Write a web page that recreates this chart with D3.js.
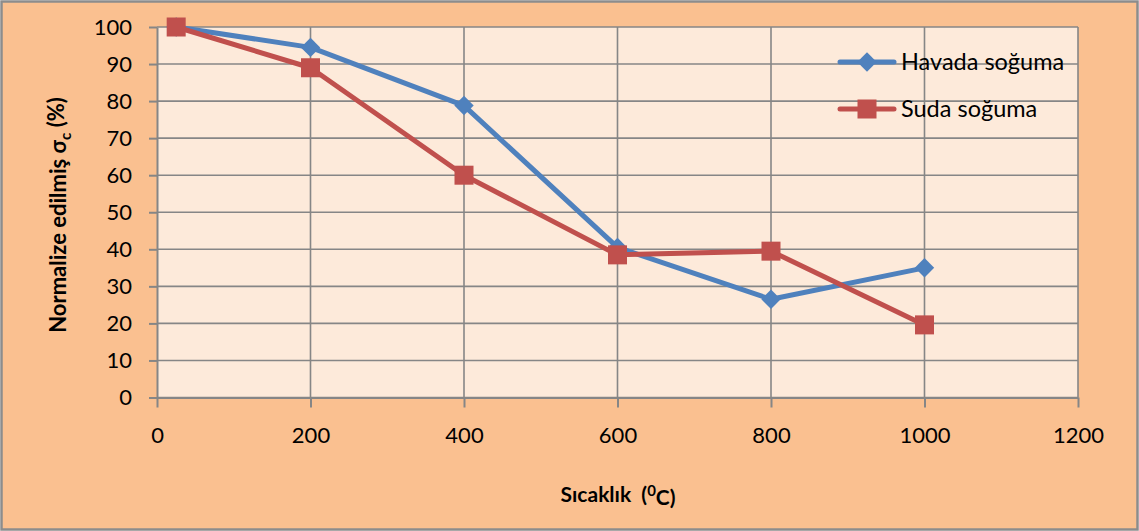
<!DOCTYPE html>
<html>
<head>
<meta charset="utf-8">
<script src="https://cdn.jsdelivr.net/npm/d3@7"></script>
<style>
  html, body { margin: 0; padding: 0; background: #fff; }
  svg { display: block; }
  text { font-family: Lato, "Open Sans", "Liberation Sans", sans-serif; white-space: pre; }
</style>
</head>
<body>
<script>
// Temperature (°C) at each measurement
const temperatures = [25, 200, 400, 600, 800, 1000];
// Normalised compressive strength (%) per cooling method
const havadaValues = [100, 94.5, 78.8, 40.5, 26.5, 35.0];
const sudaValues   = [100, 89.0, 60.0, 38.5, 39.5, 19.6];
const seriesNames  = ["Havada soğuma", "Suda soğuma"];
const seriesColors = ["#4F81BD", "#C0504D"];
const xTicks = [0, 200, 400, 600, 800, 1000, 1200];
const yTicks = [0, 10, 20, 30, 40, 50, 60, 70, 80, 90, 100];

const W = 1139, H = 531;
const plot = { left: 157, right: 1078, top: 27, bottom: 397.5 };

const svg = d3.select("body").append("svg").attr("width", W).attr("height", H);

// outer chart area
svg.append("rect").attr("x", 1.5).attr("y", 1.5).attr("width", W - 3).attr("height", H - 3)
  .attr("fill", "#FAC090").attr("stroke", "#8C8C8C").attr("stroke-width", 2.5);

const x = d3.scaleLinear().domain([0, 1200]).range([plot.left, plot.right]);
const y = d3.scaleLinear().domain([0, 100]).range([plot.bottom, plot.top]);

// plot area
svg.append("rect").attr("x", plot.left).attr("y", plot.top)
  .attr("width", plot.right - plot.left).attr("height", plot.bottom - plot.top)
  .attr("fill", "#FDEADA");

const gridColor = "#868686";

// horizontal gridlines
svg.append("g").selectAll("line").data(yTicks).join("line")
  .attr("x1", plot.left).attr("x2", plot.right)
  .attr("y1", d => y(d)).attr("y2", d => y(d))
  .attr("stroke", gridColor).attr("stroke-width", 1.6);

// vertical gridlines
svg.append("g").selectAll("line").data(xTicks.filter(d => d > 0)).join("line")
  .attr("x1", d => x(d)).attr("x2", d => x(d))
  .attr("y1", plot.top).attr("y2", plot.bottom)
  .attr("stroke", gridColor).attr("stroke-width", 1.6);

// y axis
const yAxis = svg.append("g").attr("transform", `translate(${plot.left},0)`)
  .call(d3.axisLeft(y).tickValues(yTicks).tickFormat(d3.format("d"))
    .tickSize(8).tickPadding(17).tickSizeOuter(0));
// x axis
const xAxis = svg.append("g").attr("transform", `translate(0,${plot.bottom})`)
  .call(d3.axisBottom(x).tickValues(xTicks).tickFormat(d3.format("d"))
    .tickSize(10).tickPadding(20).tickSizeOuter(0));

[yAxis, xAxis].forEach(g => {
  g.select(".domain").attr("stroke", gridColor).attr("stroke-width", 2);
  g.selectAll(".tick line").attr("stroke", gridColor).attr("stroke-width", 2);
  g.selectAll(".tick text").attr("fill", "#000").style("font-size", "22px")
    .style("font-family", "Lato, 'Open Sans', sans-serif");
});

// series
const series = [havadaValues, sudaValues];
const line = d3.line().x(d => x(d.t)).y(d => y(d.v));
const diamond = d3.symbol().type(d3.symbolDiamond2).size(240);

series.forEach((vals, i) => {
  const pts = temperatures.map((t, j) => ({ t, v: vals[j] }));
  svg.append("path").datum(pts).attr("d", line)
    .attr("fill", "none").attr("stroke", seriesColors[i])
    .attr("stroke-width", 5).attr("stroke-linejoin", "round");
  const g = svg.append("g");
  if (i === 0) {
    g.selectAll("path").data(pts).join("path")
      .attr("d", diamond)
      .attr("transform", d => `translate(${x(d.t)},${y(d.v)})`)
      .attr("fill", seriesColors[i]);
  } else {
    g.selectAll("rect").data(pts).join("rect")
      .attr("x", d => x(d.t) - 9.5).attr("y", d => y(d.v) - 9.5)
      .attr("width", 19).attr("height", 19)
      .attr("fill", seriesColors[i]);
  }
});

// legend
const legendY = [62, 109];
seriesNames.forEach((name, i) => {
  const g = svg.append("g");
  g.append("line").attr("x1", 840).attr("x2", 894).attr("y1", legendY[i]).attr("y2", legendY[i])
    .attr("stroke", seriesColors[i]).attr("stroke-width", 5).attr("stroke-linecap", "round");
  if (i === 0) {
    g.append("path").attr("d", diamond)
      .attr("transform", `translate(867,${legendY[i]})`).attr("fill", seriesColors[i]);
  } else {
    g.append("rect").attr("x", 867 - 9.5).attr("y", legendY[i] - 9.5)
      .attr("width", 19).attr("height", 19).attr("fill", seriesColors[i]);
  }
  g.append("text").attr("x", 901).attr("y", legendY[i]).attr("dy", "0.35em")
    .style("font-size", "23.5px").attr("fill", "#000").text(name);
});

// axis titles
const xt = svg.append("text").attr("x", 618).attr("y", 495).attr("dy", "0.35em")
  .attr("text-anchor", "middle").style("font-size", "21px").style("font-weight", "bold")
  .attr("fill", "#000");
xt.append("tspan").text("Sıcaklık\u00A0\u00A0(");
xt.append("tspan").attr("dy", "-0.45em").style("font-size", "15px").text("0");
xt.append("tspan").attr("dy", "0.45em").text("C)");

const yt = svg.append("text").attr("transform", "translate(66,215) rotate(-90)")
  .attr("text-anchor", "middle").style("font-size", "22px").style("font-weight", "bold")
  .attr("fill", "#000");
yt.append("tspan").text("Normalize edilmiş σ");
yt.append("tspan").attr("dy", "0.3em").style("font-size", "15px").text("c");
yt.append("tspan").attr("dy", "-0.3em").text(" (%)");
</script>
</body>
</html>
